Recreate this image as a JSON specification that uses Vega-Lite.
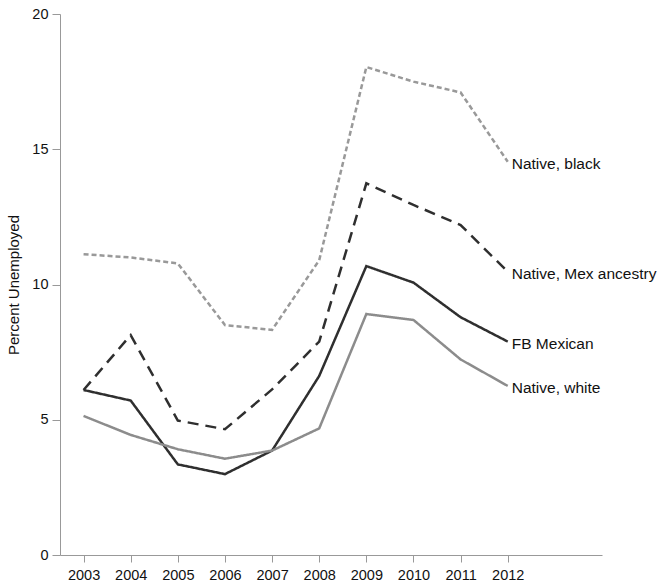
{
  "$schema": "https://vega.github.io/schema/vega-lite/v6.json",
  "width": 542,
  "height": 541,
  "autosize": {"type": "none"},
  "padding": {"left": 60, "top": 14, "right": 63, "bottom": 33},
  "background": "white",
  "config": {
    "view": {"stroke": null},
    "font": "Liberation Sans"
  },
  "data": {
    "values": [
      {"year": 2003, "group": "Native, black", "value": 11.12},
      {"year": 2004, "group": "Native, black", "value": 11.0},
      {"year": 2005, "group": "Native, black", "value": 10.78},
      {"year": 2006, "group": "Native, black", "value": 8.5},
      {"year": 2007, "group": "Native, black", "value": 8.32},
      {"year": 2008, "group": "Native, black", "value": 10.9},
      {"year": 2009, "group": "Native, black", "value": 18.04},
      {"year": 2010, "group": "Native, black", "value": 17.5},
      {"year": 2011, "group": "Native, black", "value": 17.1},
      {"year": 2012, "group": "Native, black", "value": 14.54},
      {"year": 2003, "group": "Native, Mex ancestry", "value": 6.1},
      {"year": 2004, "group": "Native, Mex ancestry", "value": 8.13},
      {"year": 2005, "group": "Native, Mex ancestry", "value": 4.97},
      {"year": 2006, "group": "Native, Mex ancestry", "value": 4.65},
      {"year": 2007, "group": "Native, Mex ancestry", "value": 6.12},
      {"year": 2008, "group": "Native, Mex ancestry", "value": 7.89},
      {"year": 2009, "group": "Native, Mex ancestry", "value": 13.74},
      {"year": 2010, "group": "Native, Mex ancestry", "value": 12.94},
      {"year": 2011, "group": "Native, Mex ancestry", "value": 12.2},
      {"year": 2012, "group": "Native, Mex ancestry", "value": 10.47},
      {"year": 2003, "group": "FB Mexican", "value": 6.1},
      {"year": 2004, "group": "FB Mexican", "value": 5.71},
      {"year": 2005, "group": "FB Mexican", "value": 3.35},
      {"year": 2006, "group": "FB Mexican", "value": 2.99},
      {"year": 2007, "group": "FB Mexican", "value": 3.86},
      {"year": 2008, "group": "FB Mexican", "value": 6.62},
      {"year": 2009, "group": "FB Mexican", "value": 10.68},
      {"year": 2010, "group": "FB Mexican", "value": 10.07},
      {"year": 2011, "group": "FB Mexican", "value": 8.79},
      {"year": 2012, "group": "FB Mexican", "value": 7.89},
      {"year": 2003, "group": "Native, white", "value": 5.14},
      {"year": 2004, "group": "Native, white", "value": 4.44},
      {"year": 2005, "group": "Native, white", "value": 3.91},
      {"year": 2006, "group": "Native, white", "value": 3.56},
      {"year": 2007, "group": "Native, white", "value": 3.86},
      {"year": 2008, "group": "Native, white", "value": 4.68},
      {"year": 2009, "group": "Native, white", "value": 8.91},
      {"year": 2010, "group": "Native, white", "value": 8.69},
      {"year": 2011, "group": "Native, white", "value": 7.23},
      {"year": 2012, "group": "Native, white", "value": 6.25}
    ]
  },
  "encoding": {
    "x": {
      "field": "year",
      "type": "quantitative",
      "scale": {"domain": [2002.5, 2014], "nice": false, "zero": false},
      "axis": {
        "values": [2003, 2004, 2005, 2006, 2007, 2008, 2009, 2010, 2011, 2012],
        "format": "d",
        "title": null,
        "grid": false,
        "domainColor": "#999999",
        "tickColor": "#999999",
        "tickSize": 7,
        "labelPadding": 6,
        "labelFontSize": 14.5,
        "labelColor": "#111111",
        "labelFont": "Liberation Sans"
      }
    },
    "y": {
      "field": "value",
      "type": "quantitative",
      "scale": {"domain": [0, 20], "nice": false},
      "axis": {
        "values": [0, 5, 10, 15, 20],
        "title": "Percent Unemployed",
        "titleFontSize": 15,
        "titleFontWeight": "normal",
        "titleColor": "#111111",
        "titleFont": "Liberation Sans",
        "titlePadding": 10,
        "grid": false,
        "domainColor": "#999999",
        "tickColor": "#999999",
        "tickSize": 8,
        "labelPadding": 4,
        "labelFontSize": 14.5,
        "labelColor": "#111111",
        "labelFont": "Liberation Sans"
      }
    }
  },
  "layer": [
    {
      "mark": {"type": "line", "strokeWidth": 2.5},
      "encoding": {
        "color": {
          "field": "group",
          "type": "nominal",
          "scale": {
            "domain": ["Native, black", "Native, Mex ancestry", "FB Mexican", "Native, white"],
            "range": ["#999999", "#2f2f2f", "#2f2f2f", "#8c8c8c"]
          },
          "legend": null
        },
        "strokeDash": {
          "field": "group",
          "type": "nominal",
          "scale": {
            "domain": ["Native, black", "Native, Mex ancestry", "FB Mexican", "Native, white"],
            "range": [[5, 3], [11, 7], [1, 0], [1, 0]]
          },
          "legend": null
        }
      }
    },
    {
      "transform": [{"filter": "datum.year == 2012"}],
      "mark": {
        "type": "text",
        "align": "left",
        "baseline": "middle",
        "dx": 4,
        "dy": 2,
        "fontSize": 15.5,
        "font": "Liberation Sans",
        "color": "#111111"
      },
      "encoding": {
        "text": {"field": "group", "type": "nominal"}
      }
    }
  ]
}
